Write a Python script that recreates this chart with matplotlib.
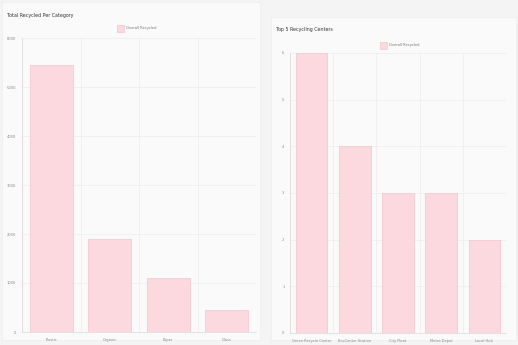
import matplotlib
matplotlib.use("Agg")
import matplotlib.pyplot as plt
from matplotlib.patches import Rectangle

W, H = 518, 345
left_title = "Total Recycled Per Category"
left_cats = ["Plastic", "Organic", "Paper", "Glass"]
left_vals = [5450, 1900, 1100, 450]
left_ticks = [0, 1000, 2000, 3000, 4000, 5000, 6000]

right_title = "Top 5 Recycling Centers"
right_cats = ["Green Recycle Center", "EcoCenter Station", "City Plant", "Metro Depot", "Local Hub"]
right_vals = [6, 4, 3, 3, 2]
right_ticks = [0, 1, 2, 3, 4, 5, 6]

legend_label = "Overall Recycled"
bar_face = "#fbd9df"
bar_edge = "#f5c3cc"
grid_c = "#ececec"
fs = 2.6

fig = plt.figure(figsize=(W/100, H/100), dpi=100)
fig.patch.set_facecolor("#f4f4f4")

def px(x0, y0, x1, y1):
    return [x0/W, 1 - y1/H, (x1-x0)/W, (y1-y0)/H]

# cards
fig.patches.append(Rectangle((2/W, 1-340/H), 258/W, 338/H, transform=fig.transFigure,
                             facecolor="#fafafa", edgecolor="#eeeeee", lw=0.5, zorder=-5))
fig.patches.append(Rectangle((271/W, 1-340/H), 245/W, 323/H, transform=fig.transFigure,
                             facecolor="#fafafa", edgecolor="#eeeeee", lw=0.5, zorder=-5))

def draw(ax, cats, vals, ticks, title, tx, ty, lx, ly):
    x = range(len(cats))
    ax.bar(x, vals, width=0.73, color=bar_face, edgecolor=bar_edge, linewidth=0.5, zorder=2)
    ax.set_xlim(-0.5, len(cats)-0.5)
    ax.set_ylim(ticks[0], ticks[-1])
    ax.set_yticks(ticks)
    ax.set_yticklabels([str(t) for t in ticks], fontsize=fs, color="#888888")
    ax.set_xticks(list(x))
    ax.set_xticklabels(cats, fontsize=fs, color="#888888")
    ax.set_xticks([i + 0.5 for i in range(-1, len(cats))], minor=True)
    ax.grid(True, which="minor", axis="x", color=grid_c, lw=0.5, zorder=0)
    ax.grid(True, which="major", axis="y", color=grid_c, lw=0.5, zorder=0)
    ax.tick_params(axis="both", which="both", length=0, pad=4)
    ax.set_facecolor("none")
    for s in ["top", "right"]:
        ax.spines[s].set_visible(False)
    for s in ["left", "bottom"]:
        ax.spines[s].set_color("#d8d8d8")
        ax.spines[s].set_linewidth(0.5)
    fig.text(tx/W, 1-ty/H, title, fontsize=3.4, color="#333333", va="center", ha="left")
    fig.patches.append(Rectangle(((lx)/W, 1-(ly+3.5)/H), 7/W, 7/H, transform=fig.transFigure,
                                 facecolor=bar_face, edgecolor=bar_edge, lw=0.5))
    fig.text((lx+9)/W, 1-ly/H, legend_label, fontsize=fs, color="#777777", va="center", ha="left")

ax1 = fig.add_axes(px(22, 38, 256, 332))
draw(ax1, left_cats, left_vals, left_ticks, left_title, 7, 15, 117, 28)
ax2 = fig.add_axes(px(290, 53, 506, 333))
draw(ax2, right_cats, right_vals, right_ticks, right_title, 276, 30, 380, 45)

fig.savefig("out.png", dpi=100, facecolor=fig.get_facecolor())
